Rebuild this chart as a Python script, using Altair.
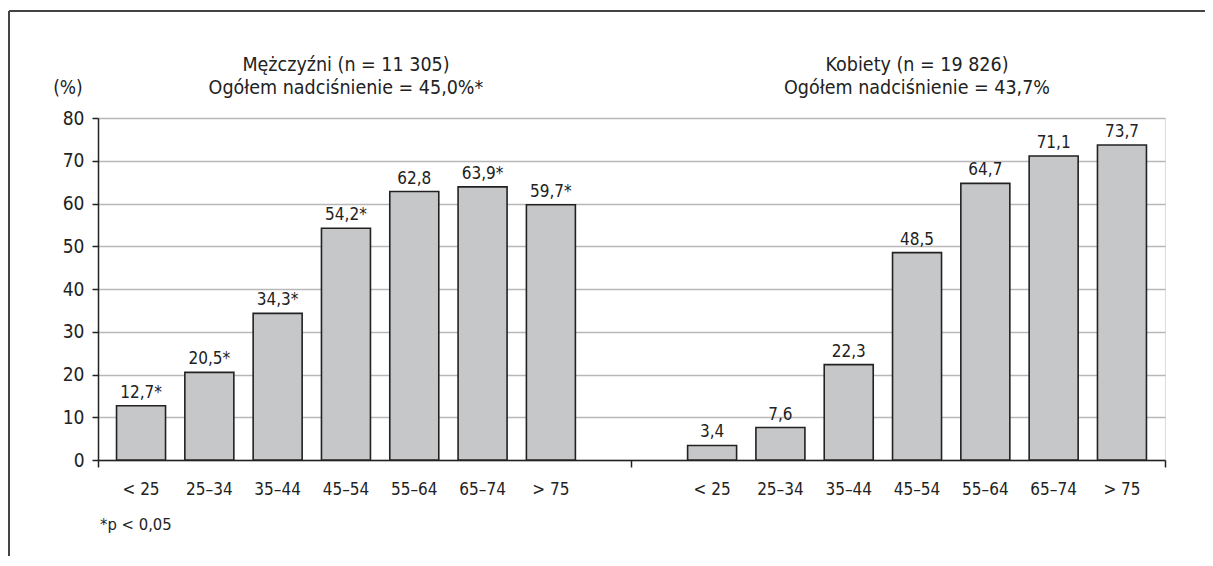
import altair as alt
import pandas as pd

# ---- data ----
age_groups = ["< 25", "25–34", "35–44", "45–54", "55–64", "65–74", "> 75"]
men_values = [12.7, 20.5, 34.3, 54.2, 62.8, 63.9, 59.7]
men_signif = [True, True, True, True, False, True, True]
women_values = [3.4, 7.6, 22.3, 48.5, 64.7, 71.1, 73.7]
women_signif = [False] * 7
men_title = ["Mężczyźni (n = 11 305)", "Ogółem nadciśnienie = 45,0%*"]
women_title = ["Kobiety (n = 19 826)", "Ogółem nadciśnienie = 43,7%"]
y_ticks = [0, 10, 20, 30, 40, 50, 60, 70, 80]
footnote = "*p < 0,05"
unit_label = "(%)"

FONT = "DejaVu Sans Condensed, Liberation Sans Narrow, sans-serif"
W, H = 1067, 342

# layout in "bar step" units
OUTER = 0.63
GAP = 2.36
women_offset = 6 + GAP
x_min = -OUTER
x_max = women_offset + 6 + OUTER
x_mid = (x_min + x_max) / 2


def fmt(v, star):
    return f"{v:.1f}".replace(".", ",") + ("*" if star else "")


rows = []
for i, (a, v, s) in enumerate(zip(age_groups, men_values, men_signif)):
    rows.append({"pos": i, "age": a, "value": v, "label": fmt(v, s), "group": "M"})
for i, (a, v, s) in enumerate(zip(age_groups, women_values, women_signif)):
    rows.append({"pos": women_offset + i, "age": a, "value": v, "label": fmt(v, s), "group": "K"})
df = pd.DataFrame(rows)

titles = pd.DataFrame([
    {"pos": 3, "line1": men_title[0], "line2": men_title[1]},
    {"pos": women_offset + 3, "line1": women_title[0], "line2": women_title[1]},
])

xscale = alt.Scale(domain=[x_min, x_max], nice=False, zero=False, padding=0)
x_enc = alt.X("pos:Q", scale=xscale,
              axis=alt.Axis(values=[x_min, x_mid, x_max], labels=False, title=None,
                            grid=False, tickSize=7, tickColor="#222", tickWidth=1.5,
                            domainColor="#222", domainWidth=1.5))
y_enc = alt.Y("value:Q", scale=alt.Scale(domain=[0, 80], nice=False, padding=0),
              axis=alt.Axis(values=y_ticks, title=None, grid=True, gridColor="#b8b8b8",
                            gridWidth=1.5, tickSize=6, tickColor="#222", tickWidth=1.5,
                            domainColor="#222", domainWidth=1.5, labelFontSize=19,
                            labelColor="#222", labelPadding=8, labelFont=FONT))

base = alt.Chart(df)

bars = base.mark_bar(size=49, color="#c6c7c9", stroke="#222", strokeWidth=1.6).encode(
    x=x_enc, y=y_enc)

value_labels = base.mark_text(baseline="alphabetic", dy=-8, fontSize=17, font=FONT,
                              color="#222").encode(x="pos:Q", y="value:Q", text="label:N")

cat_labels = base.mark_text(baseline="alphabetic", fontSize=17, font=FONT,
                            color="#222").encode(x="pos:Q", y=alt.value(H + 35), text="age:N")

t1 = alt.Chart(titles).mark_text(baseline="middle", fontSize=19.5, font=FONT, color="#222").encode(
    x="pos:Q", y=alt.value(-53), text="line1:N")
t2 = alt.Chart(titles).mark_text(baseline="middle", fontSize=19.5, font=FONT, color="#222").encode(
    x="pos:Q", y=alt.value(-30), text="line2:N")

misc = pd.DataFrame({"t": [unit_label]})
unit = alt.Chart(misc).mark_text(baseline="middle", fontSize=19, font=FONT, color="#222").encode(
    x=alt.value(-30), y=alt.value(-30), text="t:N")

foot = alt.Chart(pd.DataFrame({"t": [footnote]})).mark_text(
    baseline="middle", align="left", fontSize=16.5, font=FONT, color="#222").encode(
    x=alt.value(2), y=alt.value(407), text="t:N")

frame_top = alt.Chart(misc).mark_rule(color="#444", strokeWidth=2).encode(
    x=alt.value(-89), x2=alt.value(1130), y=alt.value(-107))
frame_left = alt.Chart(misc).mark_rule(color="#444", strokeWidth=2).encode(
    x=alt.value(-89), y=alt.value(-107), y2=alt.value(460))

chart = alt.layer(bars, value_labels, cat_labels, t1, t2, unit, foot, frame_top, frame_left).properties(
    width=W, height=H,
    autosize=alt.AutoSizeParams(type="none"),
    padding={"left": 90, "top": 110, "right": 40, "bottom": 96},
).configure_view(stroke="#222", strokeWidth=1.5).configure(font=FONT)

chart.save("out.html", embed_options={"renderer": "svg", "actions": False})
